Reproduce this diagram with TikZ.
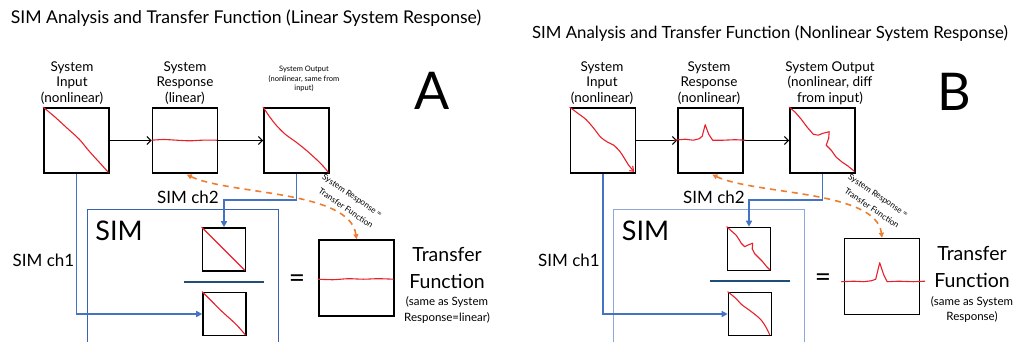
\documentclass[tikz,border=0pt]{standalone}
\usepackage{fontspec}
\setmainfont{Lato}
\usetikzlibrary{arrows.meta,calc}

\definecolor{curve}{HTML}{E8202A}
\definecolor{chan}{HTML}{4472C4}
\definecolor{simA}{HTML}{3A64B0}
\definecolor{simB}{HTML}{8EA9D8}
\definecolor{fracline}{HTML}{1F4E79}
\definecolor{tfarrow}{HTML}{ED7D31}

\newcommand\fsz[2]{\fontsize{#1}{#2}\selectfont}

\begin{document}
\begin{tikzpicture}[x=1pt,y=-1pt,
  plotbox/.style={draw=black,line width=1.6pt,minimum width=65pt,minimum height=65pt,inner sep=0pt},
  smallbox/.style={draw=black,line width=1.6pt,minimum width=43pt,minimum height=43pt,inner sep=0pt},
  tfbox/.style={draw=black,line width=1.6pt,minimum width=75pt,minimum height=76pt,inner sep=0pt},
  curveline/.style={draw=curve,line width=1.1pt,line join=round,line cap=round},
  flow/.style={draw=black,line width=1.1pt,-{Straight Barb[length=4pt,width=8pt]}},
  chline/.style={draw=chan,line width=1.6pt,-{Triangle[length=6pt,width=6pt]}},
  simframe/.style={line width=0.8pt},
  tfcurve/.style={draw=tfarrow,line width=1.6pt,dash pattern=on 6pt off 5pt,
    {Triangle[length=5pt,width=5pt]}-{Triangle[length=5pt,width=5pt]}},
  title/.style={font=\fsz{17.6}{20}},
  label/.style={align=center,font=\fsz{13.5}{15.5},inner sep=0pt},
  tiny/.style={align=center,font=\fsz{7.5}{9.5},inner sep=0pt},
  chlabel/.style={font=\fsz{17}{20},inner sep=0pt},
  simlabel/.style={font=\fsz{27}{30},inner sep=0pt},
  eqsign/.style={font=\fsz{28}{30},inner sep=0pt},
  tflabel/.style={align=center,font=\fsz{19.5}{26.5},inner sep=0pt},
  tfnote/.style={align=center,font=\fsz{11.5}{15.5},inner sep=0pt},
  rotnote/.style={font=\fsz{8.3}{11},inner sep=0pt,rotate=-34},
  panelletter/.style={inner sep=0pt,font=\fsz{52}{58}}
]
\useasboundingbox (0,0) rectangle (1018,341);

% ================= Panel A: linear system response =================
\node[title] (titleA) at (246,18) {SIM Analysis and Transfer Function (Linear System Response)};

\node[plotbox] (inA)  at (76.5,140.5) {};
\node[plotbox] (rsA)  at (185,140.5) {};
\node[plotbox] (outA) at (296.5,140.5) {};

\node[label] (inAlbl) at (72,83) {System\\Input\\(nonlinear)};
\node[label] (rsAlbl) at (185,83) {System\\Response\\(linear)};
\node[tiny]  (outAlbl) at (304,79) {System Output\\(nonlinear, same from\\input)};
\node[panelletter] (letA) at (432,90.5) {A};

\draw[flow] (inA.east) -- (rsA.west);
\draw[flow] (rsA.east) -- (outA.west);

% red traces inside the top row
\begin{scope}[shift={(inA.north west)}]
  \draw[curveline] plot[smooth] coordinates {(0,0) (12,10) (24,21) (36,32) (46,44) (56,55) (65,65)};
\end{scope}
\begin{scope}[shift={(rsA.north west)}]
  \draw[curveline] plot[smooth] coordinates {(0,33) (12,32.3) (25,33) (38,33.6) (50,33) (65,33)};
\end{scope}
\begin{scope}[shift={(outA.north west)}]
  \draw[curveline] plot[smooth] coordinates {(0,0) (6,9) (13,18) (22,27) (33,35) (43,43) (53,52) (60,59) (65,65)};
\end{scope}

% SIM block
\draw[simframe,draw=simA] (87,360) -- (87,209) -- (278,209) -- (278,360);
\node[simlabel] (simA) at (119,231) {SIM};
\node[smallbox] (numA) at (224,249.5) {};
\node[smallbox] (denA) at (224.5,314) {};
\draw[fracline,line width=1.4pt] (184,282) -- (264,282);
\begin{scope}[shift={(numA.north west)}]
  \draw[curveline] plot[smooth] coordinates {(0,0) (10,10) (20,20) (30,30) (37,37) (43,43)};
\end{scope}
\begin{scope}[shift={(denA.north west)}]
  \draw[curveline] plot[smooth] coordinates {(0,0) (10,10) (20,20) (30,29) (37,36) (43,43)};
\end{scope}

\draw[chline] (inA.south) |- (denA.west);
\draw[chline] (outA.south) -- ++(0,26) -| (numA.north);
\node[chlabel] (ch1A) at (43.5,260) {SIM ch1};
\node[chlabel] (ch2A) at (188,197) {SIM ch2};

\node[eqsign] (eqA) at (297,281) {=};
\node[tfbox] (tfA) at (356.5,278) {};
\begin{scope}[shift={(tfA.north west)}]
  \draw[curveline] plot[smooth] coordinates {(0,40) (15,40.5) (30,39.5) (45,40) (60,39.5) (75,40)};
\end{scope}
\node[tflabel] (tfAlbl) at (447,268) {Transfer\\Function};
\node[tfnote] (tfAnote) at (447,310) {(same as System\\Response=linear)};

\draw[tfcurve,shorten <=2pt] (rsA.south) .. controls (230,195) and (350,190) .. (tfA.north);
\node[rotnote] (noteA1) at (352,196) {System Response =};
\node[rotnote] (noteA2) at (346,208) {Transfer Function};

% ================= Panel B: nonlinear system response =================
\node[title,font=\fsz{16.8}{20}] (titleB) at (770,33) {SIM Analysis and Transfer Function (Nonlinear System Response)};

\node[plotbox] (inB)  at (603,140.5) {};
\node[plotbox] (rsB)  at (710.5,140.5) {};
\node[plotbox] (outB) at (822.5,140.5) {};

\node[label] (inBlbl) at (602,83) {System\\Input\\(nonlinear)};
\node[label] (rsBlbl) at (709,83) {System\\Response\\(nonlinear)};
\node[label] (outBlbl) at (830,83) {System Output\\(nonlinear, diff\\from input)};
\node[panelletter] (letB) at (954,91.5) {B};

\draw[flow] (inB.east) -- (rsB.west);
\draw[flow] (rsB.east) -- (outB.west);

\begin{scope}[shift={(inB.north west)}]
  \draw[curveline] plot[smooth] coordinates {(0,0) (8,6) (16,12) (24,21) (31,30) (38,35) (44,38) (50,44) (54,50) (59,58) (64,64)};
  \draw[curveline] (60,63.5) -- (64,64) -- (63,59);
\end{scope}
\begin{scope}[shift={(rsB.north west)}]
  \draw[curveline] (-3,33) -- (8,32) -- (16,33) -- (22,31.5) -- (25,29) -- (28,17.5) -- (31.5,27) -- (35.5,33) -- (46,33) -- (58,32.5) -- (68,33);
\end{scope}
\begin{scope}[shift={(outB.north west)}]
  \draw[curveline] (0,0) -- (6,5) -- (12,12) -- (18,20) -- (24,27) -- (29,28) -- (34,26) -- (40,24.5) -- (39.5,31) -- (37,38) -- (42,43) -- (47,50) -- (53,55) -- (59,59) -- (65,64);
\end{scope}

\draw[simframe,draw=simB] (613,360) -- (613,209) -- (804,209) -- (804,360);
\node[simlabel] (simB) at (645.5,231) {SIM};
\node[smallbox] (numB) at (749,249) {};
\node[smallbox] (denB) at (750,314) {};
\draw[fracline,line width=1.4pt] (710,281) -- (790,281);
\begin{scope}[shift={(numB.north west)}]
  \draw[curveline] (0,0) -- (5,4.5) -- (9.5,8.5) -- (12.5,13) -- (14.5,16.5) -- (18,20) -- (22,18) -- (26,16.5) -- (25.5,22) -- (28,27) -- (32,31) -- (36,35) -- (40,40) -- (43,43);
\end{scope}
\begin{scope}[shift={(denB.north west)}]
  \draw[curveline] plot[smooth] coordinates {(0,0) (5,4) (9,7.5) (13,12) (16,14.5) (21,18) (25,21) (30,25) (34,29) (38,35) (42,43)};
\end{scope}

\draw[chline] (inB.south) |- (denB.west);
\draw[chline] (outB.south) -- ++(0,26) -| (numB.north);
\node[chlabel] (ch1B) at (569,260) {SIM ch1};
\node[chlabel] (ch2B) at (714,197) {SIM ch2};

\node[eqsign] (eqB) at (823,280) {=};
\node[tfbox] (tfB) at (882,276.5) {};
\begin{scope}[shift={(tfB.north west)}]
  \draw[curveline] (-2,44) -- (10,43.5) -- (20,44) -- (28,43) -- (32,41.5) -- (36,25) -- (40,37) -- (43.5,44) -- (55,43.5) -- (70,44) -- (81,43.5);
\end{scope}
\node[tflabel] (tfBlbl) at (972,267) {Transfer\\Function};
\node[tfnote] (tfBnote) at (972,309.5) {(same as System\\Response)};

\draw[tfcurve,shorten <=2pt] (rsB.south) .. controls (756,195) and (876,190) .. (tfB.north);
\node[rotnote] (noteB1) at (878,196) {System Response =};
\node[rotnote] (noteB2) at (872,208) {Transfer Function};

\end{tikzpicture}
\end{document}
